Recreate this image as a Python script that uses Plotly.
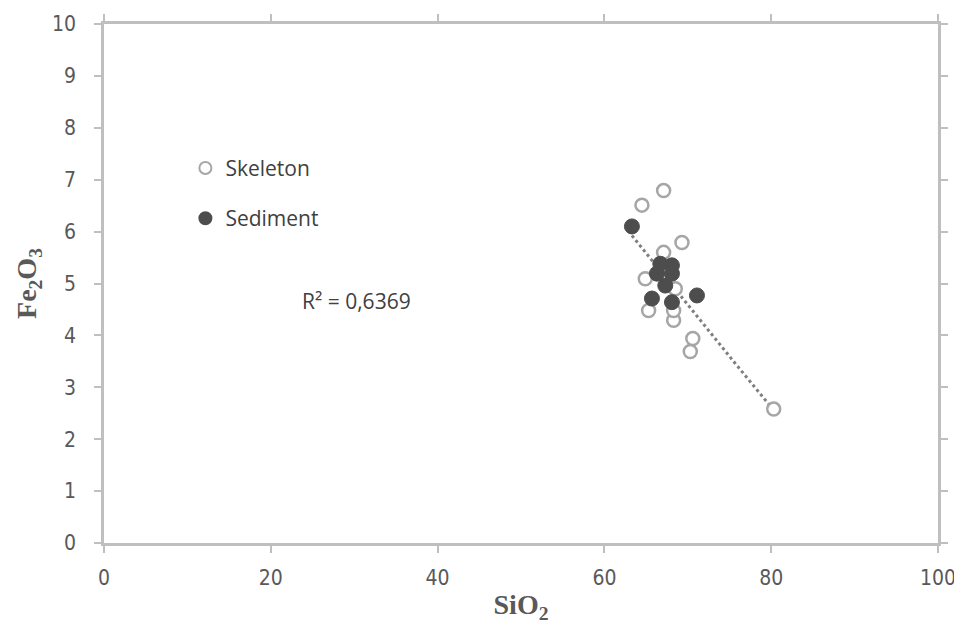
import numpy as np
import plotly.graph_objects as go

# Skeleton (hollow) points
skel_x = [67.1, 64.5, 69.3, 67.1, 64.9, 65.3, 68.3, 68.3, 68.5, 70.6, 70.3, 80.3]
skel_y = [6.79, 6.51, 5.79, 5.60, 5.09, 4.48, 4.29, 4.48, 4.90, 3.94, 3.69, 2.58]

# Sediment (filled) points
sed_x = [63.3, 66.7, 68.1, 66.3, 68.1, 67.3, 65.7, 68.1, 71.1]
sed_y = [6.10, 5.38, 5.35, 5.19, 5.19, 4.96, 4.71, 4.64, 4.77]

x_ticks = [0, 20, 40, 60, 80, 100]
y_ticks = list(range(0, 11))
r2_label = "R² = 0,6369"

# trendline: quadratic fit over all points
all_x = np.array(skel_x + sed_x)
all_y = np.array(skel_y + sed_y)
coef = np.polyfit(all_x, all_y, 2)
tx = np.linspace(all_x.min(), all_x.max(), 60)
ty = np.polyval(coef, tx)

axis_col = "#bfbfbf"
text_col = "#595959"
tick_font = dict(family="DejaVu Sans Condensed, Liberation Sans Narrow, Open Sans", size=21, color=text_col)

fig = go.Figure()
fig.add_trace(go.Scatter(x=tx, y=ty, mode="lines", showlegend=False,
                         line=dict(color="#7f7f7f", width=3, dash="dot"),
                         hoverinfo="skip"))
fig.add_trace(go.Scatter(x=skel_x, y=skel_y, mode="markers", name="Skeleton",
                         legendgroup="a",
                         marker=dict(size=13, color="white",
                                     line=dict(color="#a6a6a6", width=2.5))))
fig.add_trace(go.Scatter(x=sed_x, y=sed_y, mode="markers", name="Sediment",
                         legendgroup="b",
                         marker=dict(size=15, color="#4d4d4d",
                                     line=dict(color="#4d4d4d", width=1))))

fig.add_annotation(x=30.3, y=4.67, text=r2_label, showarrow=False,
                   font=dict(family="Open Sans", size=21, color="#404040"))

axis_common = dict(showgrid=False, zeroline=False, showline=True, automargin=False,
                   linecolor=axis_col, linewidth=2.5, mirror="ticks",
                   ticks="outside", ticklen=7, tickwidth=2, tickcolor=axis_col,
                   tickfont=tick_font)

# page body has an 8px margin, so the figure is sized/offset to compensate
fig.update_layout(
    width=954, height=617,
    margin=dict(l=96, r=24, t=16, b=82),
    plot_bgcolor="white", paper_bgcolor="white",
    xaxis=dict(range=[0, 100], tickvals=x_ticks, ticklabelstandoff=7,
               title=dict(text="SiO<sub>2</sub>", standoff=6,
                          font=dict(family="Liberation Serif", size=28, color=text_col,
                                    weight="bold")),
               **axis_common),
    yaxis=dict(range=[0, 10], tickvals=y_ticks, ticklabelstandoff=14,
               title=dict(text="Fe<sub>2</sub>O<sub>3</sub>", standoff=8,
                          font=dict(family="Liberation Serif", size=28, color=text_col,
                                    weight="bold")),
               **axis_common),
    legend=dict(x=0.0976, y=0.7615, xanchor="left", yanchor="top",
                bgcolor="rgba(0,0,0,0)", tracegroupgap=20, itemsizing="constant",
                font=dict(family="Open Sans", size=21, color="#404040")),
)

fig.write_html("out.html")
